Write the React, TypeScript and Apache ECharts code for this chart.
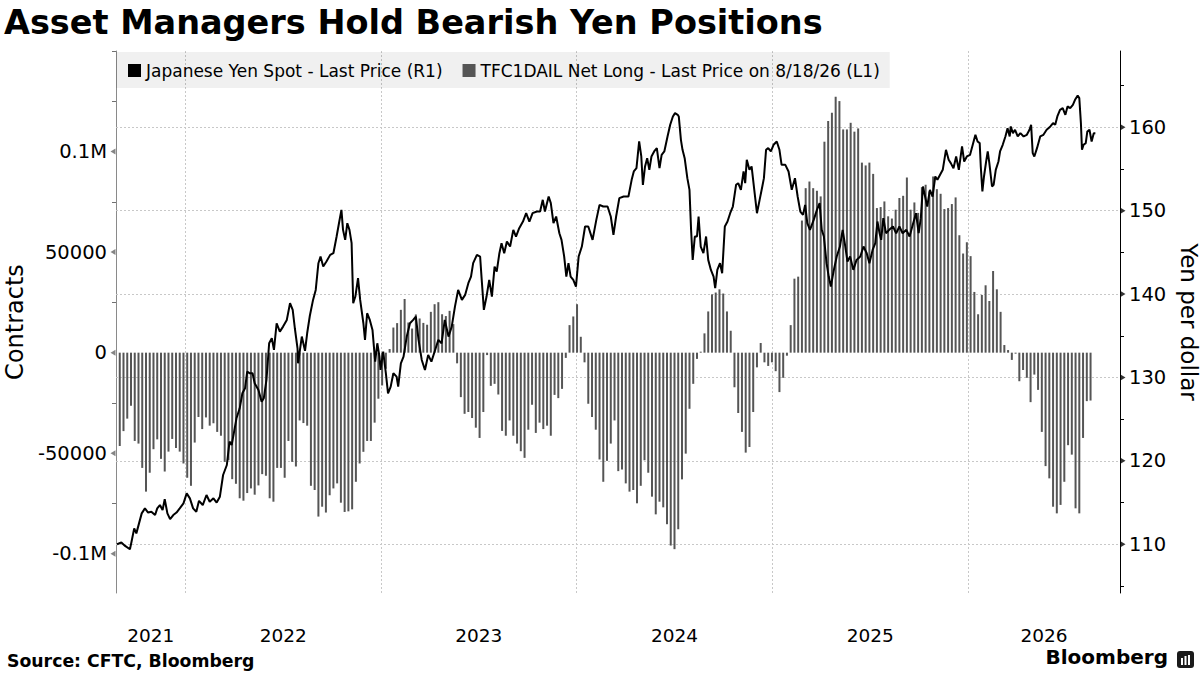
import React, { useEffect, useRef } from "react";
import * as echarts from "echarts";

const TITLE = "Asset Managers Hold Bearish Yen Positions";
const SOURCE = "Source: CFTC, Bloomberg";
const BRAND = "Bloomberg";
const LINE_NAME = "Japanese Yen Spot - Last Price (R1)";
const BAR_NAME = "TFC1DAIL Net Long - Last Price on 8/18/26 (L1)";
const LEFT_NAME = "Contracts";
const RIGHT_NAME = "Yen per dollar";

const X_MIN = "2021-08-24";
const X_MAX = "2026-10-12";
const YEARS = [2021, 2022, 2023, 2024, 2025, 2026];

const LEFT_MIN = -119500;
const LEFT_MAX = 150000;
const LEFT_LABELS = [-100000, -50000, 0, 50000, 100000];
const LEFT_TICKS = [-75000, -25000, 25000, 75000, 125000, 150000];
const RIGHT_MIN = 104.15;
const RIGHT_MAX = 169.15;
const RIGHT_LABELS = [110, 120, 130, 140, 150, 160];
const RIGHT_TICKS = [105, 115, 125, 135, 145, 155, 165];

// Weekly CFTC net positioning (contracts), first report date below
const BAR_START = "2021-08-31";
const BAR_VALUES = [
  -46400, -39000, -32800, -26400, -43900, -45200, -57300, -69100, -59700, -48000,
  -43100, -52800, -59100, -49200, -42900, -47400, -49200, -55100, -62200, -66200,
  -44700, -32000, -38000, -32200, -36300, -35100, -39400, -41300, -54300, -53500,
  -62900, -65200, -72400, -73600, -69800, -67500, -70600, -66000, -60400, -61200,
  -72400, -74100, -57300, -57300, -62200, -43900, -54300, -56600, -33700, -35000,
  -36300, -66200, -68300, -81500, -76600, -79500, -70900, -67500, -65000, -74600,
  -79200, -78900, -77900, -64200, -55100, -49300, -43900,
  -43900, -34800, -22900, -16300, -8000, 1800, 12500, 14700, 21300, 26700,
  15000, 12000, 19000, 17000, 14800, 13900, 20300, 24100, 25100, 19100,
  18200, 20800, 14200, -5300, -22100, -30400, -29500, -32500, -37300, -42400,
  -29500, -1200, -16500, -15500, -20800, -38900, -41300, -33700, -41300, -45200,
  -49000, -52300, -38300, -25900, -39900, -34800, -38000, -36300, -41300, -21000,
  -22600, -18000, -2600, 13700, 18000, 24100, 7900, -4800, -25400, -32000,
  -38300, -53100, -64200, -53800, -45200, -33700, -58900,
  -58100, -65000, -69100, -68300, -74900, -66200, -53500, -59700, -71600, -80400,
  -74100, -76900, -85300, -95900, -97700, -87800, -63000, -50200, -27900, -15500,
  -3100, 500, 9600, 20500, 29000, 29900, 31500, 29400, 20500, 10900,
  -17200, -30000, -39400, -49700, -46900, -29500, -7300, 4800, -4800, -6600,
  -4800, -9200, -19600, -12500, -1500, 13700, 36800, 37800, 65700, 81800,
  85100, 81800, 80500, 77700, 104900, 115200, 119300, 127200, 125100, 111000,
  111000, 114300, 109900, 111500, 94500, 93100, 94500,
  88900, 71900, 72400, 75200, 67800, 66700, 71100, 76900, 78000, 87100,
  71100, 74700, 69500, 82300, 83500, 80200, 87600, 81300, 79000, 71400,
  71900, 73900, 77200, 58400, 49300, 54900, 48000, 30200, 19100, 28700,
  33500, 25700, 40600, 31500, 20300, 3800, 1300, -3600, -500, -14200,
  -8600, -12500, -24600, -10900, -18500, -39400, -56400, -62500, -76600, -79900,
  -75700, -64200, -46000, -50700, -77400, -79900, -42400, -24100, -23800,
];

// USD/JPY readings: days after BAR_START, and yen per dollar
const LINE_DAYS = [
  -5, 3, 10, 19, 22, 27, 31, 36, 41, 47, 53, 59, 66, 70, 75, 80, 84, 89, 94, 100,
  106, 112, 119, 125, 131, 137, 143, 148, 155, 162, 168, 175, 181, 187, 193, 200, 205, 209, 213, 218,
  224, 229, 234, 238, 243, 248, 252, 259, 265, 269, 274, 279, 284, 288, 293, 299, 305, 312, 318, 323,
  327, 332, 333, 340, 346, 350, 355, 361, 366, 371, 375, 380, 386, 393, 399, 405, 410, 414, 417, 421,
  425, 429, 433, 436, 440, 445,
  449, 455, 458, 462, 467, 472, 477, 481, 485, 487, 492, 497, 501, 506, 511, 517, 520, 525, 530, 536,
  542, 548, 553, 558, 564, 570, 576, 582, 589, 595, 601, 607, 614, 620, 626, 632, 639, 645, 651, 656,
  660, 667, 673, 676, 680, 685, 690, 695, 700, 704, 709, 713, 718, 723, 729, 735, 740, 746, 753, 759,
  765, 771, 779, 785, 790, 794, 801, 805, 810, 815, 821, 825, 830, 834, 838, 842, 847, 852, 857, 863,
  869, 875, 883, 890, 896, 903, 911, 917, 922, 927, 933,
  941, 950, 956, 960, 965, 970, 974, 977, 981, 985, 989, 993, 998, 1003, 1008, 1012, 1017, 1023, 1028, 1033,
  1037, 1042, 1044, 1048, 1051, 1055, 1060, 1064, 1067, 1070, 1074, 1078, 1081, 1085, 1090, 1095, 1099, 1104, 1109, 1112,
  1116, 1121, 1125, 1130, 1135, 1140, 1145, 1151, 1155, 1160, 1165, 1168, 1171, 1176, 1180, 1185, 1190, 1195, 1200, 1203,
  1207, 1211, 1216, 1221, 1227, 1232, 1236, 1243, 1249, 1255, 1261, 1266, 1271, 1276, 1280, 1284, 1289, 1296, 1302, 1307,
  1311, 1315, 1320, 1324, 1328, 1333, 1339, 1345, 1350, 1355, 1359, 1364, 1370, 1376, 1383, 1389, 1395,
  1400, 1406, 1411, 1415, 1419, 1422, 1426, 1431, 1437, 1444, 1450, 1456, 1462, 1469, 1475, 1481, 1487, 1492, 1496, 1500,
  1504, 1508, 1513, 1518, 1523, 1527, 1532, 1537, 1543, 1548, 1552, 1557, 1562, 1567, 1573, 1577, 1582, 1588, 1593, 1598,
  1602, 1606, 1608, 1611, 1614, 1618, 1621, 1624, 1629, 1632, 1636, 1641, 1644, 1649, 1654, 1658, 1662, 1664, 1668, 1672,
  1677, 1682, 1688, 1694, 1699, 1702, 1705, 1708, 1713, 1719, 1725, 1731, 1738, 1743, 1747, 1751, 1756, 1761, 1766, 1770,
  1775, 1780, 1784, 1789, 1792, 1795, 1797, 1800, 1804, 1807, 1811, 1815, 1819, 1822,
];
const LINE_VALUES = [
  110.0, 110.2, 109.8, 109.4, 110.3, 111.9, 111.3, 112.5, 113.7, 114.3, 113.8, 113.9, 113.5, 114.3, 114.7, 114.1, 115.4, 113.7, 113.0, 113.5,
  113.8, 114.3, 114.9, 116.1, 115.5, 114.3, 113.9, 115.2, 114.7, 115.9, 115.1, 115.5, 115.0, 115.7, 118.3, 119.5, 122.3, 121.9, 123.3, 125.1,
  126.3, 128.1, 128.7, 130.7, 130.5, 130.5, 129.3, 128.5, 127.1, 127.5, 129.7, 134.1, 134.7, 133.3, 136.5, 135.5, 136.1, 136.9, 138.9, 138.1,
  135.9, 133.5, 131.7, 134.9, 133.2, 135.3, 137.4, 139.3, 140.5, 143.7, 144.5, 143.3, 143.9, 144.7, 144.9, 146.9, 148.7, 150.1, 147.7, 146.5,
  148.5, 147.7, 146.1, 138.9, 139.7, 141.9,
  139.3, 136.5, 134.5, 137.7, 136.9, 135.7, 131.9, 134.1, 132.5, 130.9, 133.1, 130.5, 128.1, 128.9, 130.5, 130.1, 128.9, 131.7, 132.5, 134.9,
  136.5, 136.9, 137.3, 134.5, 132.1, 130.9, 132.7, 131.9, 133.3, 134.5, 134.1, 136.9, 134.9, 136.1, 138.5, 140.5, 139.3, 139.9, 141.3, 142.1,
  143.7, 144.7, 144.5, 141.7, 138.1, 139.7, 141.7, 139.7, 143.3, 142.7, 144.9, 146.1, 144.9, 146.3, 145.7, 147.7, 146.9, 147.9, 148.7, 149.7,
  148.7, 149.7, 149.9, 149.9, 151.3, 149.9, 151.7, 150.9, 148.5, 149.3, 147.3, 146.5, 144.5, 142.1, 143.7, 142.1, 141.7, 140.9, 144.5, 145.7,
  148.1, 148.1, 146.5, 148.9, 150.7, 150.5, 150.5, 149.3, 147.1, 149.3, 151.5,
  151.7, 151.7, 153.7, 154.7, 155.1, 158.3, 156.5, 153.1, 155.3, 156.3, 154.9, 156.5, 157.1, 157.5, 155.1, 156.7, 157.1, 158.9, 160.3, 161.3,
  161.7, 161.5, 161.3, 158.5, 157.3, 156.3, 153.9, 152.5, 147.7, 144.1, 146.9, 146.9, 149.3, 145.7, 144.9, 146.9, 144.1, 142.9, 142.1, 140.7,
  142.9, 143.7, 142.5, 148.1, 148.7, 149.7, 150.5, 153.1, 153.3, 152.5, 154.7, 153.3, 156.1, 154.9, 155.3, 152.5, 149.7, 151.3, 152.9, 153.9,
  157.3, 157.5, 157.1, 157.9, 158.3, 157.3, 155.5, 155.5, 154.7, 152.5, 153.9, 151.7, 149.9, 149.5, 150.7, 148.5, 147.7, 148.9, 150.1, 150.9,
  147.7, 146.9, 143.7, 142.1, 140.9, 142.7, 144.5, 145.7, 147.7, 145.7, 143.9, 144.5, 142.9, 144.1, 144.5, 145.7, 144.9,
  143.7, 145.3, 146.1, 148.7, 147.3, 146.5, 149.1, 147.3, 147.7, 148.1, 147.3, 148.1, 147.3, 147.7, 146.9, 148.3, 149.7, 147.3, 149.1, 152.9,
  151.7, 150.5, 152.5, 151.7, 154.1, 153.7, 154.3, 154.9, 157.3, 156.1, 155.7, 155.1, 156.5, 154.9, 157.7, 155.9, 156.5, 156.7, 157.9, 159.1,
  158.3, 158.1, 155.3, 152.3, 154.1, 155.9, 157.1, 155.7, 152.9, 153.1, 154.9, 155.9, 157.1, 157.9, 158.9, 159.9, 158.9, 160.1, 159.3, 159.7,
  158.9, 159.3, 158.9, 159.1, 159.7, 160.3, 156.9, 156.5, 157.5, 158.9, 159.1, 159.7, 160.1, 160.5, 160.3, 161.3, 162.1, 162.3, 161.5, 162.5,
  162.3, 162.7, 163.3, 163.8, 163.5, 160.5, 157.3, 157.9, 158.1, 159.5, 159.7, 158.3, 159.3, 159.3,
];

const FONT = "DejaVu Sans";
const DAY = 86400000;

export default function App() {
  const ref = useRef<HTMLDivElement>(null);

  useEffect(() => {
    document.body.style.margin = "0";
    if (!ref.current) return;
    const chart = echarts.init(ref.current, undefined, { renderer: "svg" });

    const xMin = Date.parse(X_MIN);
    const xMax = Date.parse(X_MAX);
    const barStart = Date.parse(BAR_START);
    const barData = BAR_VALUES.map((v, i) => [barStart + i * 7 * DAY, v]);
    const lineData = LINE_DAYS.map((d, i) => [barStart + d * DAY, LINE_VALUES[i]]);
    const yearMids = YEARS.map((y) => {
      const a = Math.max(Date.UTC(y, 0, 1), xMin);
      const b = Math.min(Date.UTC(y + 1, 0, 1), xMax);
      return (a + b) / 2;
    });
    const yearBounds = YEARS.slice(1).map((y) => ({ xAxis: Date.UTC(y, 0, 1) }));
    const gridStyle = { type: [2, 2] as any, color: "#c8c8c8", width: 1 };
    const tickMark = {
      type: "scatter",
      symbol: "triangle",
      symbolSize: [6, 5],
      clip: false,
      silent: true,
      z: 4,
      tooltip: { show: false },
    };

    chart.setOption({
      animation: false,
      backgroundColor: "#ffffff",
      textStyle: { fontFamily: FONT },
      grid: {
        left: 116,
        right: 80,
        top: 51,
        bottom: 82,
        containLabel: false,
        outerBoundsMode: "none",
      },
      legend: {
        left: 116,
        top: 52,
        padding: [10, 10, 9, 12],
        backgroundColor: "rgba(0,0,0,0.06)",
        itemGap: 20,
        itemWidth: 13,
        itemHeight: 13,
        icon: "rect",
        textStyle: { fontSize: 17, color: "#000", fontFamily: FONT },
        data: [LINE_NAME, BAR_NAME],
        selectedMode: false,
      },
      graphic: [
        {
          type: "text",
          left: 4,
          top: 5,
          style: { text: TITLE, font: `bold 33.5px '${FONT}'`, fill: "#000" },
        },
        {
          type: "text",
          left: 7,
          top: 652,
          style: { text: SOURCE, font: `bold 17.3px '${FONT}'`, fill: "#000" },
        },
        {
          type: "text",
          right: 32,
          top: 647,
          style: { text: BRAND, font: `bold 20px '${FONT}'`, fill: "#000" },
        },
        {
          type: "group",
          right: 6,
          top: 651,
          children: [
            { type: "rect", shape: { x: 0, y: 0, width: 17, height: 17, r: 3 }, style: { fill: "#1a1a1a" } },
            { type: "rect", shape: { x: 4, y: 7, width: 2, height: 7 }, style: { fill: "#fff" } },
            { type: "rect", shape: { x: 7.5, y: 5, width: 2, height: 9 }, style: { fill: "#fff" } },
            { type: "rect", shape: { x: 11, y: 4, width: 2, height: 10 }, style: { fill: "#fff" } },
          ],
        },
      ],
      xAxis: {
        type: "value",
        min: xMin,
        max: xMax,
        axisLine: { show: false },
        axisTick: { show: false },
        splitLine: { show: false },
        axisLabel: {
          customValues: yearMids,
          formatter: (v: number) => String(new Date(v).getUTCFullYear()),
          fontSize: 18.5,
          color: "#000",
          fontFamily: FONT,
          margin: 33,
        },
      },
      yAxis: [
        {
          type: "value",
          position: "left",
          min: LEFT_MIN,
          max: LEFT_MAX,
          name: LEFT_NAME,
          nameLocation: "middle",
          nameGap: 89,
          nameTextStyle: { fontSize: 24, color: "#000", fontFamily: FONT },
          axisLine: { show: true, lineStyle: { color: "#8a8a8a", width: 1 } },
          axisTick: { show: true, customValues: LEFT_TICKS, length: 4, lineStyle: { color: "#707070" } },
          axisLabel: {
            customValues: LEFT_LABELS,
            formatter: (v: number) => (v === 100000 ? "0.1M" : v === -100000 ? "-0.1M" : String(v)),
            fontSize: 19.5,
            color: "#000",
            fontFamily: FONT,
            margin: 9,
          },
          splitLine: { show: false },
        },
        {
          type: "value",
          position: "right",
          min: RIGHT_MIN,
          max: RIGHT_MAX,
          name: RIGHT_NAME,
          nameLocation: "middle",
          nameRotate: -90,
          nameGap: 44,
          nameTextStyle: { fontSize: 23, color: "#000", fontFamily: FONT },
          axisLine: { show: true, lineStyle: { color: "#000", width: 1 } },
          axisTick: { show: true, customValues: RIGHT_TICKS, length: 4, lineStyle: { color: "#000" } },
          axisLabel: {
            customValues: RIGHT_LABELS,
            fontSize: 19.5,
            color: "#000",
            fontFamily: FONT,
            margin: 9,
          },
          splitLine: { show: false },
        },
      ],
      series: [
        {
          name: BAR_NAME,
          type: "bar",
          yAxisIndex: 0,
          barWidth: 2,
          itemStyle: { color: "#555555" },
          data: barData,
          markLine: {
            z: 1,
            silent: true,
            symbol: ["none", "none"],
            label: { show: false },
            lineStyle: gridStyle,
            data: yearBounds,
          },
        },
        {
          name: LINE_NAME,
          type: "line",
          yAxisIndex: 1,
          showSymbol: false,
          itemStyle: { color: "#000" },
          lineStyle: { color: "#000", width: 2 },
          data: lineData,
          z: 3,
          markLine: {
            z: 1,
            silent: true,
            symbol: ["none", "none"],
            label: { show: false },
            lineStyle: gridStyle,
            data: RIGHT_LABELS.map((v) => ({ yAxis: v })),
          },
        },
        {
          ...tickMark,
          name: "leftTicks",
          yAxisIndex: 0,
          symbolRotate: 90,
          symbolOffset: [-3, 0],
          itemStyle: { color: "#666666" },
          data: LEFT_LABELS.map((v) => [xMin, v]),
        },
        {
          ...tickMark,
          name: "rightTicks",
          yAxisIndex: 1,
          symbolRotate: -90,
          symbolOffset: [3, 0],
          itemStyle: { color: "#000" },
          data: RIGHT_LABELS.map((v) => [xMax, v]),
        },
      ],
    });

    return () => chart.dispose();
  }, []);

  return <div ref={ref} style={{ width: 1200, height: 675 }} />;
}
